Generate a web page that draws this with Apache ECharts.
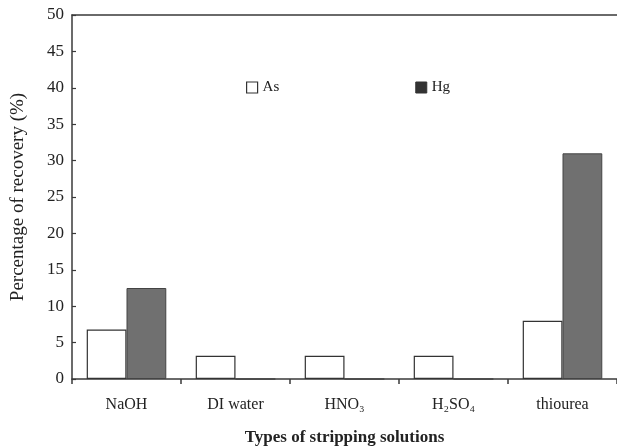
<!DOCTYPE html>
<html>
<head>
<meta charset="utf-8">
<script src="https://cdn.jsdelivr.net/npm/echarts@6/dist/echarts.min.js"></script>
<style>
  html, body { margin: 0; padding: 0; background: #fff; }
  #chart { width: 617px; height: 447px; }
</style>
</head>
<body>
<div id="chart"></div>
<script>
// Stripping solutions tested and recovery (%) for each metal
const categories = ['NaOH', 'DI water', 'HNO\u2083', 'H\u2082SO\u2084', 'thiourea'];
const asRecovery = [6.8, 3.2, 3.2, 3.2, 8.0];
const hgRecovery = [12.5, 0, 0, 0, 31.0];
const yTicks = { min: 0, max: 50, interval: 5 };

const serif = '"Liberation Serif", "Times New Roman", serif';
const ink = '#222';
const axisInk = '#3a3a3a';

const chart = echarts.init(document.getElementById('chart'), null, { renderer: 'canvas' });

chart.setOption({
  backgroundColor: '#fff',
  animation: false,
  grid: { left: 72, right: 0, top: 15, bottom: 68, containLabel: false, outerBoundsMode: 'none' },
  legend: {
    left: 241,
    top: 75,
    itemWidth: 11,
    itemHeight: 11,
    itemGap: 136,
    icon: 'rect',
    textStyle: { fontFamily: serif, fontSize: 15, color: ink },
    data: [
      { name: 'As', itemStyle: { color: '#fff', borderColor: '#333', borderWidth: 1.2 } },
      { name: 'Hg', itemStyle: { color: '#333', borderColor: '#333', borderWidth: 1 } }
    ]
  },
  xAxis: [
    {
      type: 'category',
      data: categories,
      position: 'bottom',
      axisLine: { show: true, lineStyle: { color: axisInk, width: 1.5 } },
      axisTick: { show: true, inside: false, length: 5, lineStyle: { color: axisInk, width: 1.5 } },
      axisLabel: { fontFamily: serif, fontSize: 16, color: ink, margin: 18 },
      name: 'Types of stripping solutions',
      nameLocation: 'middle',
      nameGap: 50,
      nameTextStyle: { fontFamily: serif, fontSize: 17, fontWeight: 'bold', color: ink }
    },
    {
      type: 'category',
      data: categories,
      position: 'top',
      axisLine: { show: true, lineStyle: { color: axisInk, width: 1.5 } },
      axisTick: { show: false },
      axisLabel: { show: false }
    }
  ],
  yAxis: {
    type: 'value',
    min: yTicks.min,
    max: yTicks.max,
    interval: yTicks.interval,
    axisLine: { show: true, lineStyle: { color: axisInk, width: 1.5 } },
    axisTick: { show: true, inside: true, length: 4, lineStyle: { color: axisInk, width: 1.2 } },
    splitLine: { show: false },
    axisLabel: { fontFamily: serif, fontSize: 17, color: ink, margin: 8 },
    name: 'Percentage of recovery (%)',
    nameLocation: 'middle',
    nameGap: 44,
    nameTextStyle: { fontFamily: serif, fontSize: 19, color: ink }
  },
  series: [
    {
      name: 'As',
      type: 'bar',
      xAxisIndex: 0,
      data: asRecovery,
      barGap: '0%',
      barCategoryGap: '27%',
      itemStyle: { color: '#fff', borderColor: '#333', borderWidth: 1.2 }
    },
    {
      name: 'Hg',
      type: 'bar',
      xAxisIndex: 0,
      data: hgRecovery,
      barGap: '0%',
      barCategoryGap: '27%',
      itemStyle: { color: '#707070', borderColor: '#444', borderWidth: 1 }
    }
  ]
});
</script>
</body>
</html>
